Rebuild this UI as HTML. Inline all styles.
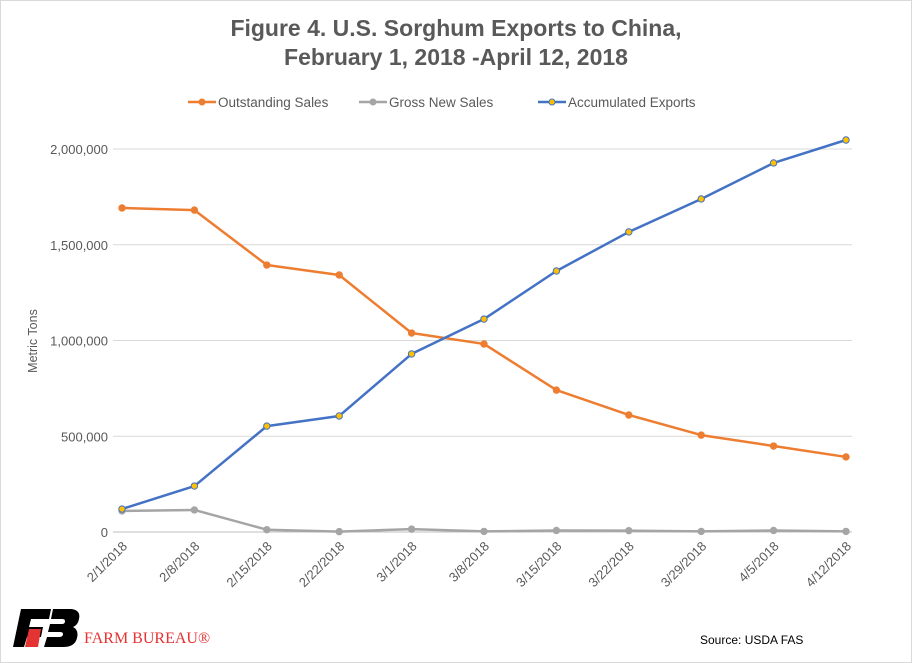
<!DOCTYPE html>
<html><head><meta charset="utf-8"><style>
body{margin:0;background:#fff}
#wrap{position:relative;width:910px;height:661px;border:1px solid #d9d9d9;background:#fff;font-family:"Liberation Sans",sans-serif;overflow:hidden}
</style></head><body>
<div id="wrap">
<svg id="chart" width="910" height="661"></svg>
</div>
<script>
const categories=["2/1/2018","2/8/2018","2/15/2018","2/22/2018","3/1/2018","3/8/2018","3/15/2018","3/22/2018","3/29/2018","4/5/2018","4/12/2018"];
const outstanding=[1692000,1681000,1394000,1342000,1039000,982000,741000,611000,506000,449000,392000];
const grossNew=[110000,115000,12000,2000,15000,3000,8000,7000,3000,8000,3000];
const accumulated=[120000,240000,553000,606000,930000,1112000,1363000,1567000,1739000,1927000,2047000];
const yTicks=[0,500000,1000000,1500000,2000000];
const yTickLabels=["0","500,000","1,000,000","1,500,000","2,000,000"];

const NS="http://www.w3.org/2000/svg";
const svg=document.getElementById('chart');
function el(t,a,p){const e=document.createElementNS(NS,t);for(const k in a)e.setAttribute(k,a[k]);(p||svg).appendChild(e);return e;}
const x0=121,x1=845,y0=531,yTop=148,yMax=2000000;
const xs=i=>x0+(x1-x0)*i/(categories.length-1);
const ys=v=>y0-(y0-yTop)*v/yMax;

let t=el('text',{x:455,y:35,'text-anchor':'middle','font-size':23,'font-weight':'bold',fill:'#595959'});
t.textContent="Figure 4. U.S. Sorghum Exports to China,";


t=el('text',{x:455,y:64,'text-anchor':'middle','font-size':23,'font-weight':'bold',fill:'#595959'});
t.textContent="February 1, 2018 -April 12, 2018";



yTicks.forEach((v,i)=>{
 const g=el('line',{x1:112,x2:851,y1:ys(v),y2:ys(v),stroke:i==0?'#bfbfbf':'#d9d9d9','stroke-width':1});
 
 
 const l=el('text',{x:107,y:ys(v)+5,'text-anchor':'end','font-size':13,fill:'#595959'});
 l.textContent=yTickLabels[i];
 
 
});
t=el('text',{x:0,y:0,transform:'translate(36,340) rotate(-90)','text-anchor':'middle','font-size':12.5,fill:'#595959'});
t.textContent="Metric Tons";



categories.forEach((c,i)=>{
 const l=el('text',{x:0,y:0,transform:`translate(${xs(i)+6},${y0+15}) rotate(-45)`,'text-anchor':'end','font-size':13,fill:'#595959'});
 l.textContent=c;
 
 
});

function series(vals,color,fillc,name){
 const pts=vals.map((v,i)=>xs(i)+','+ys(v)).join(' ');
 const p=el('polyline',{points:pts,fill:'none',stroke:color,'stroke-width':2.5,'stroke-linejoin':'round'});
 
 
 vals.forEach((v,i)=>{
  const c=el('circle',{cx:xs(i),cy:ys(v),r:3.2,fill:fillc,stroke:color,'stroke-width':1});
  
  
 });
}
series(grossNew,'#a5a5a5','#a5a5a5','gross-new-sales');
series(outstanding,'#ed7d31','#ed7d31','outstanding-sales');
series(accumulated,'#4472c4','#ffc000','accumulated-exports');

const legend=[["Outstanding Sales",'#ed7d31','#ed7d31',187],["Gross New Sales",'#a5a5a5','#a5a5a5',358],["Accumulated Exports",'#4472c4','#ffc000',537]];
legend.forEach(([n,c,f,x])=>{
 const g=el('g',{});
 
 
 el('line',{x1:x,x2:x+28,y1:101,y2:101,stroke:c,'stroke-width':2.5},g);
 el('circle',{cx:x+14,cy:101,r:3,fill:f,stroke:c},g);
 const l=el('text',{x:x+30,y:106,'font-size':13.5,fill:'#595959'},g);
 l.textContent=n;
});

const lg=el('g',{transform:'translate(12,608)'});


el('path',{d:'M8 0 H38 L36 10 H18 L16 18 H30 L28 28 H14 L11 38 H0 Z',fill:'#000'},lg);
el('path',{d:'M16 20 H28 L25 38 H12 Z',fill:'#e53232'},lg);
el('path',{d:'M40 0 H58 Q68 1 66 10 Q65 16 60 18 Q66 21 64 29 Q62 38 50 38 H31 L34 28 H46 Q50 28 50 25 Q50 23 47 23 H35 L37 15 H49 Q52 15 52 12 Q52 10 49 10 H38 Z',fill:'#000'},lg);
t=el('text',{x:71,y:34,'font-family':'Liberation Serif, serif','font-size':16,fill:'#e53232'},lg);
t.textContent="FARM BUREAU®";
t=el('text',{x:699,y:643,'font-size':12,fill:'#000'});
t.textContent="Source: USDA FAS";


</script>
</body></html>
